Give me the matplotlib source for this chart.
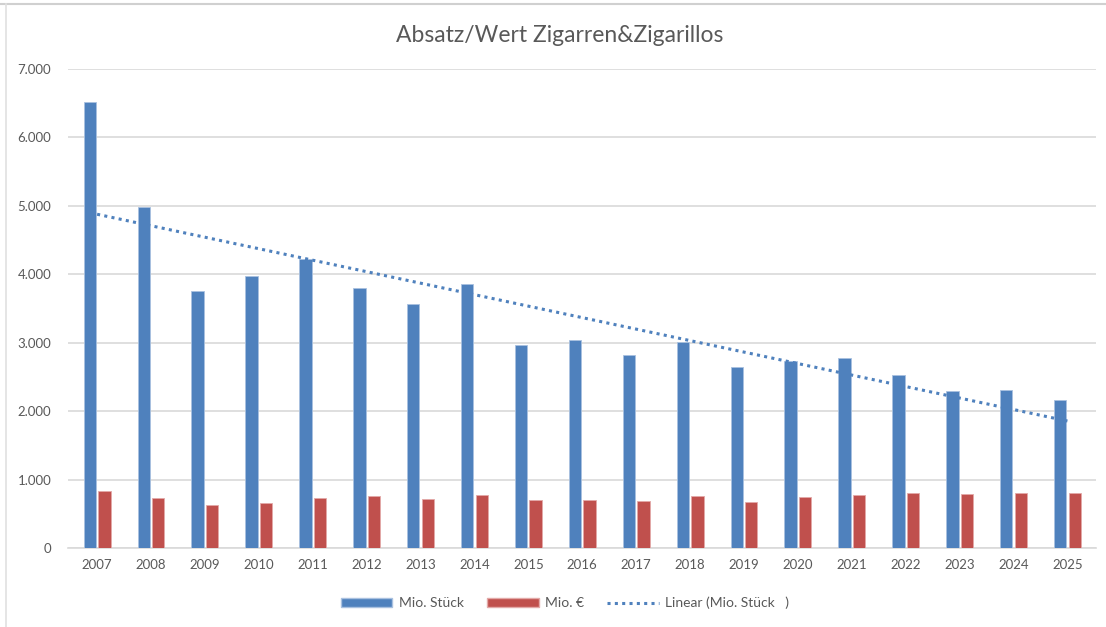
import matplotlib
matplotlib.use("Agg")
import matplotlib.pyplot as plt
import numpy as np
from matplotlib.lines import Line2D
from matplotlib.patches import Patch

years = ["2007", "2008", "2009", "2010", "2011", "2012", "2013", "2014", "2015", "2016",
         "2017", "2018", "2019", "2020", "2021", "2022", "2023", "2024", "2025"]
mio_stueck = [6520, 4990, 3760, 3970, 4220, 3800, 3560, 3860, 2960, 3045,
              2825, 3010, 2640, 2740, 2775, 2535, 2290, 2305, 2160]
mio_euro = [830, 725, 630, 660, 735, 755, 715, 775, 700, 705,
            680, 755, 670, 745, 775, 800, 785, 808, 800]
yticks = [0, 1000, 2000, 3000, 4000, 5000, 6000, 7000]
ytick_labels = ["0", "1.000", "2.000", "3.000", "4.000", "5.000", "6.000", "7.000"]

title = "Absatz/Wert Zigarren&Zigarillos"
leg_labels = ["Mio. Stück", "Mio. €", "Linear (Mio. Stück   )"]

blue = "#4f81bd"
red = "#c0504d"
txt = "#595959"
grid = "#d9d9d9"

plt.rcParams['font.family'] = ['Lato', 'DejaVu Sans']

W, H = 1106, 627
fig = plt.figure(figsize=(W / 100, H / 100), dpi=100)
ax = fig.add_axes([68 / W, 1 - 548 / H, (1096 - 68) / W, (548 - 69) / H])

x = np.arange(len(years))
bw = 0.23
off = 0.135
ax.bar(x - off, mio_stueck, width=bw, color=blue, edgecolor="#a9c1e0", linewidth=0.6, zorder=3)
ax.bar(x + off, mio_euro, width=bw, color=red, edgecolor="#e3a9a8", linewidth=0.6, zorder=3)

# linear trendline fitted to Mio. Stück
k, d = np.polyfit(x, np.array(mio_stueck, dtype=float), 1)
ax.plot(x, k * x + d, color=blue, linestyle=(0, (1, 1.4)), linewidth=2.2, zorder=4)

ax.set_xlim(-0.54, len(years) - 1 + 0.53)
ax.set_ylim(0, 7000)
ax.set_yticks(yticks)
ax.set_yticklabels(ytick_labels)
ax.set_xticks(x)
ax.set_xticklabels(years)
ax.tick_params(axis='both', length=0, colors=txt, labelsize=9.5)
ax.tick_params(axis='y', pad=12)
ax.tick_params(axis='x', pad=8)
ax.yaxis.grid(True, color=grid, linewidth=1.2, zorder=0)
ax.set_axisbelow(True)
for s in ["top", "right", "left"]:
    ax.spines[s].set_visible(False)
ax.spines["bottom"].set_color(grid)
ax.spines["bottom"].set_linewidth(1.2)

fig.text(560 / W, 1 - 36 / H, title, ha="center", va="center", fontsize=16.5, color=txt)

handles = [Patch(facecolor=blue, edgecolor="#a9c1e0"),
           Patch(facecolor=red, edgecolor="#e3a9a8"),
           Line2D([0], [0], color=blue, linestyle=(0, (1, 1.4)), linewidth=2.2)]
leg = fig.legend(handles, leg_labels, loc="center", bbox_to_anchor=(565 / W, 1 - 603 / H),
                 ncol=3, frameon=False, fontsize=10, handlelength=3.7, handleheight=0.55,
                 columnspacing=1.7, handletextpad=0.45)
for t in leg.get_texts():
    t.set_color(txt)

# frame lines of the screenshot
fig.add_artist(Line2D([0, 1], [1 - 3.5 / H, 1 - 3.5 / H], transform=fig.transFigure, color="#d0d0d0", linewidth=1.5))
fig.add_artist(Line2D([6 / W, 6 / W], [0, 1 - 3.5 / H], transform=fig.transFigure, color="#e0e0e0", linewidth=1.2))

fig.savefig("out.png", dpi=100, facecolor="white")
